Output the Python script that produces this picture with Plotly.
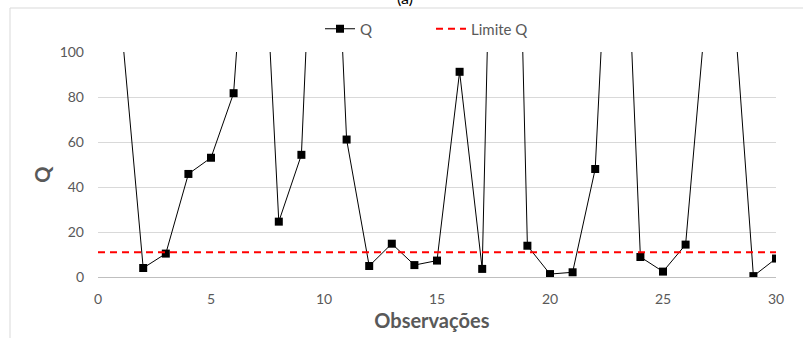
import plotly.graph_objects as go

observations = list(range(1, 31))
q_values = [116, 4.0, 10.4, 45.8, 53.0, 81.7, 222, 24.6, 54.3, 285,
            61.1, 4.9, 14.8, 5.3, 7.3, 91.2, 3.6, 435, 13.9, 1.3,
            2.1, 48.0, 250, 8.9, 2.4, 14.4, 130, 140, 0.4, 8.2]
limit_x = [0, 30]
limit_q = [11.0, 11.0]
x_ticks = [0, 5, 10, 15, 20, 25, 30]
y_ticks = [0, 20, 40, 60, 80, 100]

GRAY = "#595959"
FONT = "Lato"

fig = go.Figure()
fig.add_trace(go.Scatter(
    x=observations, y=q_values, mode="lines+markers", name="Q",
    line=dict(color="black", width=1),
    marker=dict(symbol="square", size=8, color="black"),
))
fig.add_trace(go.Scatter(
    x=limit_x, y=limit_q, mode="lines", name="Limite Q",
    line=dict(color="#ff0000", width=2, dash="7px,5px"),
))

W, H = 803, 338
L, R, T, B = 98, 27, 52, 61
pw, ph = W - L - R, H - T - B


def px_x(p):
    return (p - L) / pw


def px_y(p):
    return 1 - (p - T) / ph


fig.update_layout(
    width=W, height=H,
    margin=dict(l=L, r=R, t=T, b=B, autoexpand=False),
    paper_bgcolor="white", plot_bgcolor="white",
    font=dict(family=FONT, size=14, color=GRAY),
    showlegend=True,
    legend=dict(
        orientation="h", x=px_x(320), y=px_y(29), xanchor="left", yanchor="middle",
        font=dict(family=FONT, size=15, color=GRAY),
        entrywidth=66, entrywidthmode="pixels",
        bgcolor="rgba(0,0,0,0)",
    ),
    xaxis=dict(
        range=[0, 30], tickvals=x_ticks, showgrid=False, zeroline=False,
        showline=True, linecolor="#bfbfbf", linewidth=1, ticks="",
        ticklabelstandoff=9,
        tickfont=dict(family=FONT, size=14, color=GRAY),
        title=dict(text="<b>Observações</b>&nbsp;&nbsp;", font=dict(family=FONT, size=20, color=GRAY), standoff=8),
    ),
    yaxis=dict(
        range=[0, 100], tickvals=y_ticks, showgrid=True, gridcolor="#d9d9d9", gridwidth=1,
        zeroline=False, showline=False, ticks="",
        ticklabelstandoff=13,
        tickfont=dict(family=FONT, size=14, color=GRAY),
        title=dict(text="<b>Q</b>&nbsp;&nbsp;&nbsp;&nbsp;", font=dict(family=FONT, size=20, color=GRAY), standoff=3),
    ),
    shapes=[dict(
        type="rect", xref="paper", yref="paper",
        x0=px_x(10), x1=px_x(806), y0=px_y(342), y1=px_y(8),
        line=dict(color="#d9d9d9", width=1), fillcolor="rgba(0,0,0,0)", layer="below",
    )],
    annotations=[dict(
        text="(a)", xref="paper", yref="paper", x=px_x(405), y=px_y(9),
        xanchor="center", yanchor="bottom", showarrow=False,
        font=dict(family=FONT, size=16, color="black"),
    )],
)

fig.write_html(
    "out.html",
    config={"displayModeBar": False},
    post_script="document.body.style.margin='0';document.body.style.overflow='hidden';",
)
